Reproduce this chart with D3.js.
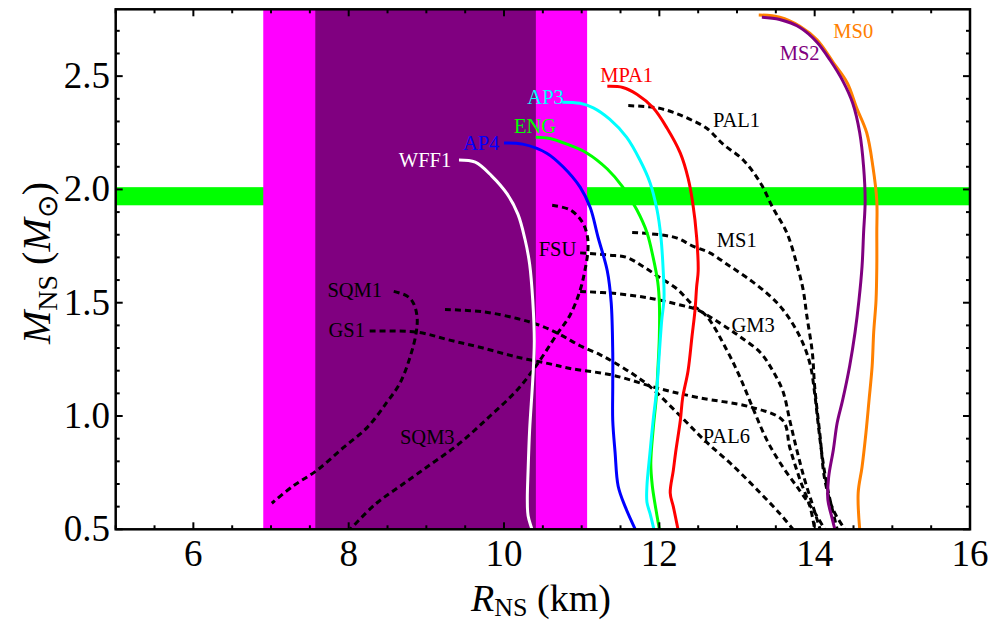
<!DOCTYPE html>
<html><head><meta charset="utf-8">
<script src="https://cdn.jsdelivr.net/npm/d3@7"></script>
<style>body{margin:0;background:#fff}svg{display:block}</style>
</head><body>
<svg id="chart" width="994" height="623"></svg>
<script>
// ---------- data ----------
const xDomain = [5, 16];
const yDomain = [0.5, 2.795];
const xMajorTicks = [6, 8, 10, 12, 14, 16];
const yMajorTicks = [0.5, 1.0, 1.5, 2.0, 2.5];
const outerBandR = [6.90, 11.07];
const innerBandR = [7.57, 10.41];
const massBandM = [1.93, 2.01];

const R_WFF1 = [9.42,9.63,9.84,10.04,10.18,10.27,10.33,10.37,10.39,10.37,10.33,10.31,10.30,10.31,10.36];
const M_WFF1 = [2.13,2.12,2.06,1.98,1.89,1.78,1.67,1.51,1.33,1.16,0.94,0.76,0.63,0.56,0.50];
const R_AP4 = [10.00,10.24,10.55,10.76,10.98,11.11,11.21,11.33,11.38,11.40,11.40,11.40,11.43,11.47,11.56,11.69];
const M_AP4 = [2.205,2.20,2.16,2.10,2.01,1.92,1.79,1.64,1.50,1.28,1.13,0.98,0.84,0.69,0.60,0.50];
const R_ENG = [10.41,10.59,10.81,11.07,11.33,11.53,11.71,11.84,11.92,11.98,12.00,12.00,11.98,11.96,11.92,11.89,11.91,11.95,12.00];
const M_ENG = [2.23,2.225,2.20,2.16,2.09,2.01,1.91,1.81,1.70,1.59,1.50,1.35,1.20,1.08,0.94,0.79,0.69,0.60,0.50];
const R_AP3 = [10.75,10.98,11.15,11.36,11.58,11.75,11.88,11.97,12.02,12.05,12.06,12.03,12.00,11.97,11.92,11.88,11.84,11.84,11.88,11.93];
const M_AP3 = [2.385,2.38,2.36,2.31,2.23,2.13,2.03,1.91,1.79,1.64,1.52,1.42,1.28,1.13,0.98,0.84,0.69,0.62,0.57,0.50];
const R_MPA1 = [11.33,11.53,11.71,11.92,12.10,12.27,12.37,12.43,12.48,12.50,12.48,12.46,12.42,12.37,12.30,12.27,12.21,12.18,12.14,12.18,12.24];
const M_MPA1 = [2.455,2.45,2.42,2.36,2.27,2.16,2.05,1.94,1.79,1.64,1.57,1.47,1.35,1.20,1.08,0.98,0.84,0.76,0.66,0.60,0.50];
const R_MS0 = [13.28,13.55,13.81,14.03,14.24,14.42,14.54,14.67,14.75,14.80,14.80,14.80,14.79,14.76,14.74,14.70,14.66,14.61,14.56,14.58];
const M_MS0 = [2.77,2.76,2.72,2.66,2.56,2.47,2.36,2.25,2.10,1.95,1.81,1.66,1.51,1.37,1.22,1.07,0.925,0.775,0.66,0.50];
const R_MS2 = [13.32,13.55,13.81,14.03,14.20,14.36,14.49,14.58,14.63,14.65,14.63,14.61,14.57,14.52,14.45,14.36,14.29,14.24,14.18,14.17,14.22,14.26];
const M_MS2 = [2.76,2.75,2.715,2.65,2.57,2.48,2.38,2.25,2.10,1.95,1.81,1.66,1.51,1.37,1.22,1.07,0.97,0.85,0.73,0.63,0.555,0.50];
const R_PAL1 = [11.60,11.97,12.18,12.39,12.61,12.82,13.08,13.30,13.46,13.64,13.77,13.85,13.90,13.97,14.00,14.07,14.13,14.24,14.39];
const M_PAL1 = [2.37,2.36,2.34,2.31,2.27,2.20,2.13,2.03,1.92,1.81,1.67,1.56,1.44,1.28,1.13,0.91,0.72,0.585,0.50];
const R_MS1 = [11.65,12.01,12.23,12.43,12.65,12.87,13.13,13.39,13.59,13.81,13.94,14.00,14.04,14.09,14.16,14.29];
const M_MS1 = [1.81,1.80,1.785,1.75,1.72,1.67,1.61,1.54,1.47,1.35,1.23,1.10,0.98,0.84,0.69,0.50];
const R_FSU = [10.98,11.36,11.58,11.79,12.01,12.23,12.43,12.61,12.87,13.04,13.21,13.39,13.59,13.81,13.98,14.13];
const M_FSU = [1.72,1.71,1.70,1.66,1.61,1.56,1.49,1.44,1.29,1.17,1.03,0.89,0.775,0.67,0.585,0.50];
const R_GM3 = [10.98,11.45,11.88,12.27,12.48,12.78,13.04,13.30,13.46,13.59,13.68,13.77,13.87,13.98,14.07];
const M_GM3 = [1.55,1.54,1.52,1.49,1.47,1.41,1.35,1.28,1.20,1.11,0.98,0.85,0.72,0.60,0.50];
const R_PAL6 = [9.24,9.73,10.17,10.46,10.72,10.98,11.24,11.40,11.66,11.88,12.27,12.59,12.95,13.30,13.55,13.72];
const M_PAL6 = [1.47,1.46,1.43,1.40,1.36,1.31,1.27,1.24,1.185,1.13,1.00,0.89,0.78,0.66,0.57,0.50];
const R_GS1 = [8.27,8.88,9.30,9.73,10.17,10.59,10.85,11.40,12.01,12.52,13.17,13.59,13.68,13.81,13.94,14.00];
const M_GS1 = [1.375,1.37,1.335,1.30,1.26,1.23,1.21,1.18,1.12,1.08,1.04,0.98,0.86,0.72,0.60,0.50];
const R_SQM1 = [8.58,8.75,8.83,8.88,8.87,8.79,8.66,8.49,8.24,7.93,7.59,7.28,7.01];
const M_SQM1 = [1.55,1.53,1.50,1.44,1.37,1.26,1.145,1.06,0.95,0.86,0.76,0.69,0.615];
const R_SQM3 = [10.62,10.85,11.00,11.07,11.08,11.04,10.98,10.85,10.68,10.42,10.17,9.82,9.43,9.05,8.66,8.34,8.02];
const M_SQM3 = [1.93,1.91,1.86,1.80,1.73,1.64,1.555,1.445,1.36,1.225,1.115,1.00,0.88,0.785,0.69,0.61,0.50];

// label anchors (data units)
const labelNames = ['WFF1','AP4','ENG','AP3','MPA1','PAL1','MS1','GM3','PAL6','FSU','SQM1','GS1','SQM3','MS0','MS2'];
const labelR     = [9.32, 9.94, 10.67, 10.77, 11.24, 12.69, 12.74, 12.93, 12.56, 10.93, 8.43, 8.21, 8.66, 14.24, 13.55];
const labelM     = [2.10, 2.173, 2.25, 2.376, 2.473, 2.274, 1.745, 1.37, 0.88, 1.705, 1.525, 1.35, 0.875, 2.67, 2.57];
const labelAnchor= ['end','end','end','end','start','start','start','start','start','end','end','end','start','start','start'];

// ---------- styles table ----------
const series = [
  {name:'SQM1', R:R_SQM1, M:M_SQM1, color:'#000', dashed:true},
  {name:'SQM3', R:R_SQM3, M:M_SQM3, color:'#000', dashed:true},
  {name:'GS1',  R:R_GS1,  M:M_GS1,  color:'#000', dashed:true},
  {name:'PAL6', R:R_PAL6, M:M_PAL6, color:'#000', dashed:true},
  {name:'GM3',  R:R_GM3,  M:M_GM3,  color:'#000', dashed:true},
  {name:'FSU',  R:R_FSU,  M:M_FSU,  color:'#000', dashed:true},
  {name:'MS1',  R:R_MS1,  M:M_MS1,  color:'#000', dashed:true},
  {name:'PAL1', R:R_PAL1, M:M_PAL1, color:'#000', dashed:true},
  {name:'WFF1', R:R_WFF1, M:M_WFF1, color:'#ffffff', dashed:false},
  {name:'AP4',  R:R_AP4,  M:M_AP4,  color:'#0000ff', dashed:false},
  {name:'ENG',  R:R_ENG,  M:M_ENG,  color:'#00ff00', dashed:false},
  {name:'AP3',  R:R_AP3,  M:M_AP3,  color:'#00ffff', dashed:false},
  {name:'MPA1', R:R_MPA1, M:M_MPA1, color:'#ff0000', dashed:false},
  {name:'MS0',  R:R_MS0,  M:M_MS0,  color:'#ff8000', dashed:false},
  {name:'MS2',  R:R_MS2,  M:M_MS2,  color:'#800080', dashed:false}
];
const labelColor = {WFF1:'#ffffff', AP4:'#0000ff', ENG:'#00ff00', AP3:'#00ffff', MPA1:'#ff0000', MS0:'#ff8000', MS2:'#800080'};

// ---------- layout ----------
const L = 115.7, Rt = 970, T = 9.3, B = 529.3;
const x = d3.scaleLinear().domain(xDomain).range([L, Rt]);
const y = d3.scaleLinear().domain(yDomain).range([B, T]);
const svg = d3.select('#chart');
const serif = '"Liberation Serif","Times New Roman",serif';

svg.append('defs').append('clipPath').attr('id','plotclip')
  .append('rect').attr('x',L).attr('y',T).attr('width',Rt-L).attr('height',B-T);

const plot = svg.append('g').attr('clip-path','url(#plotclip)');

// bands
plot.append('rect').attr('x',L).attr('width',Rt-L)
  .attr('y',y(massBandM[1])).attr('height',y(massBandM[0])-y(massBandM[1])).attr('fill','#00ff00');
plot.append('rect').attr('x',x(outerBandR[0])).attr('width',x(outerBandR[1])-x(outerBandR[0]))
  .attr('y',T).attr('height',B-T).attr('fill','#ff00ff');
plot.append('rect').attr('x',x(innerBandR[0])).attr('width',x(innerBandR[1])-x(innerBandR[0]))
  .attr('y',T).attr('height',B-T).attr('fill','#800080');

// curves
const line = d3.line().x(d=>x(d[0])).y(d=>y(d[1])).curve(d3.curveCatmullRom.alpha(0.5));
series.forEach(s=>{
  const pts = s.R.map((r,i)=>[r, s.M[i]]);
  plot.append('path').attr('d', line(pts)).attr('fill','none')
    .attr('stroke', s.color).attr('stroke-width', 3)
    .attr('stroke-dasharray', s.dashed ? '6,4' : null)
    .attr('stroke-linejoin','round');
});

// frame + ticks
const axes = svg.append('g').attr('stroke','#000').attr('stroke-width',2);
axes.append('rect').attr('x',L).attr('y',T).attr('width',Rt-L).attr('height',B-T).attr('fill','none').attr('stroke-width',2.5);
const xMinor = d3.range(5, 16.001, 0.5);
const yMinor = d3.range(0.5, 2.7501, 0.1);
xMinor.forEach(v=>{
  const major = xMajorTicks.some(m=>Math.abs(m-v)<1e-6);
  const len = major ? 7 : 4;
  axes.append('line').attr('x1',x(v)).attr('x2',x(v)).attr('y1',B).attr('y2',B-len);
  axes.append('line').attr('x1',x(v)).attr('x2',x(v)).attr('y1',T).attr('y2',T+len);
});
yMinor.forEach(v=>{
  const major = yMajorTicks.some(m=>Math.abs(m-v)<1e-6);
  const len = major ? 7 : 4;
  axes.append('line').attr('y1',y(v)).attr('y2',y(v)).attr('x1',L).attr('x2',L+len);
  axes.append('line').attr('y1',y(v)).attr('y2',y(v)).attr('x1',Rt).attr('x2',Rt-len);
});

// tick labels
svg.append('g').selectAll('text').data(xMajorTicks).join('text')
  .attr('x',d=>x(d)).attr('y',566).attr('text-anchor','middle')
  .attr('font-family',serif).attr('font-size',37).text(d=>d);
svg.append('g').selectAll('text').data(yMajorTicks).join('text')
  .attr('x',110).attr('y',d=>y(d)+12).attr('text-anchor','end')
  .attr('font-family',serif).attr('font-size',37).text(d=>d.toFixed(1));

// axis titles
const xt = svg.append('text').attr('x',541).attr('y',611).attr('text-anchor','middle')
  .attr('font-family',serif).attr('font-size',38);
xt.append('tspan').attr('font-style','italic').text('R');
xt.append('tspan').attr('font-size',26).attr('dy',5).text('NS');
xt.append('tspan').attr('dy',-5).text(' (km)');

const yt = svg.append('text').attr('transform','translate(50,263) rotate(-90)').attr('text-anchor','middle')
  .attr('font-family',serif).attr('font-size',40);
yt.append('tspan').attr('font-style','italic').text('M');
yt.append('tspan').attr('font-size',28).attr('dy',7).text('NS');
yt.append('tspan').attr('dy',-7).text(' (');
yt.append('tspan').attr('font-style','italic').text('M');
yt.append('tspan').attr('font-size',28).attr('dy',7).text('\u2299');
yt.append('tspan').attr('dy',-7).text(')');

// curve labels
const labels = labelNames.map((n,i)=>({n, r:labelR[i], m:labelM[i], a:labelAnchor[i]}));
svg.append('g').selectAll('text').data(labels).join('text')
  .attr('x',d=>x(d.r)).attr('y',d=>y(d.m)).attr('text-anchor',d=>d.a)
  .attr('font-family',serif).attr('font-size',20.5)
  .attr('fill',d=>labelColor[d.n] || '#000').text(d=>d.n);
</script>
</body></html>
